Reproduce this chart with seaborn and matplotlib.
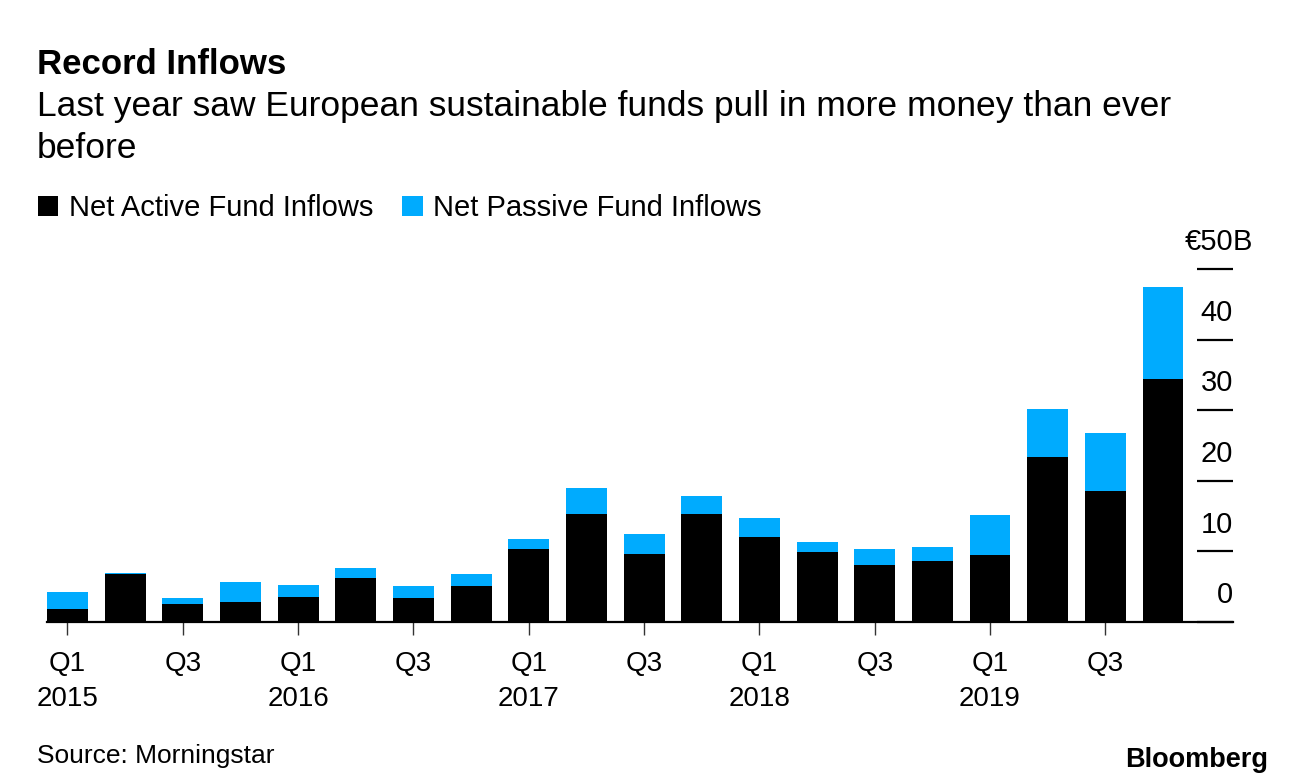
import matplotlib
matplotlib.use("Agg")
import numpy as np
import pandas as pd
import matplotlib.pyplot as plt
import seaborn as sns
from matplotlib.patches import Patch

# quarterly inflows, € billions
quarters = ["Q1", "Q2", "Q3", "Q4"] * 5
years = [2015] * 4 + [2016] * 4 + [2017] * 4 + [2018] * 4 + [2019] * 4
active = [1.9, 6.8, 2.5, 2.8, 3.6, 6.2, 3.4, 5.1, 10.4, 15.3,
          9.6, 15.3, 12.1, 9.9, 8.1, 8.6, 9.5, 23.4, 18.6, 34.4]
passive = [2.3, 0.2, 0.9, 2.8, 1.7, 1.4, 1.7, 1.7, 1.4, 3.7,
           2.8, 2.5, 2.6, 1.4, 2.3, 2.0, 5.7, 6.8, 8.2, 13.1]
y_ticks = [0, 10, 20, 30, 40, 50]

BLUE = "#00abfe"
W, H = 1296, 784

df = pd.DataFrame({"quarter": quarters, "year": years,
                   "active": active, "passive": passive})
df["period"] = df["year"].astype(str) + df["quarter"]
df["total"] = df["active"] + df["passive"]

sns.set_theme(style="white")
plt.rcParams["font.family"] = ["Liberation Sans", "DejaVu Sans"]
plt.rcParams["text.color"] = "black"
plt.rcParams["xtick.color"] = "black"

fig = plt.figure(figsize=(W / 100, H / 100), dpi=100)
ax = fig.add_axes([47 / W, 1 - 622 / H, (1233 - 47) / W, (622 - 269) / H])

sns.barplot(data=df, x="period", y="total", color=BLUE, saturation=1,
            width=0.71, linewidth=0, ax=ax)
sns.barplot(data=df, x="period", y="active", color="black", saturation=1,
            width=0.71, linewidth=0, ax=ax)

xmax = 20.214
ax.set_xlim(-0.355, xmax)
ax.set_ylim(0, 50)
ax.set_xlabel("")
ax.set_ylabel("")
for s in ["top", "left", "right"]:
    ax.spines[s].set_visible(False)
ax.spines["bottom"].set_color("black")
ax.spines["bottom"].set_linewidth(1.6)

# x ticks every other quarter
pos = list(range(0, len(df), 2))
labels = []
for i in pos:
    q, y = df["quarter"][i], df["year"][i]
    labels.append(f"{q}\n{y}" if q == "Q1" else q)
ax.set_xticks(pos)
ax.set_xticklabels(labels, fontsize=20, linespacing=1.45)
ax.tick_params(axis="x", bottom=True, length=9, width=1, color="#333333",
               pad=12, labelcolor="black")
ax.set_yticks([])

# right side value ticks
for v in y_ticks:
    ax.hlines(v, 19.59, xmax, color="black", lw=1.6, clip_on=False)
    if v == 50:
        ax.text(xmax, v + 3.8, "€50", ha="right", va="center", fontsize=21)
        ax.text(xmax, v + 3.8, "B", ha="left", va="center", fontsize=21)
    else:
        ax.text(xmax, v + 3.8, str(v), ha="right", va="center", fontsize=21)

# header
fig.text(37 / W, 1 - 74 / H, "Record Inflows", fontsize=25, fontweight="bold",
         va="baseline")
fig.text(37 / W, 1 - 116 / H,
         "Last year saw European sustainable funds pull in more money than ever",
         fontsize=25.5, va="baseline")
fig.text(37 / W, 1 - 158 / H, "before", fontsize=25.5, va="baseline")

# legend
handles = [Patch(facecolor="black", edgecolor="none"),
           Patch(facecolor=BLUE, edgecolor="none")]
fig.legend(handles, ["Net Active Fund Inflows", "Net Passive Fund Inflows"],
           loc="upper left", bbox_to_anchor=(38 / W, 1 - 194 / H), ncol=2,
           frameon=False, fontsize=21, handlelength=0.7, handleheight=0.7,
           handletextpad=0.35, columnspacing=1.0, borderaxespad=0, borderpad=0)

fig.text(37 / W, 1 - 763 / H, "Source: Morningstar", fontsize=19, va="baseline")
fig.text(1268 / W, 1 - 767 / H, "Bloomberg", fontsize=19.5, fontweight="bold",
         ha="right", va="baseline")

fig.savefig("out.png", dpi=100)
